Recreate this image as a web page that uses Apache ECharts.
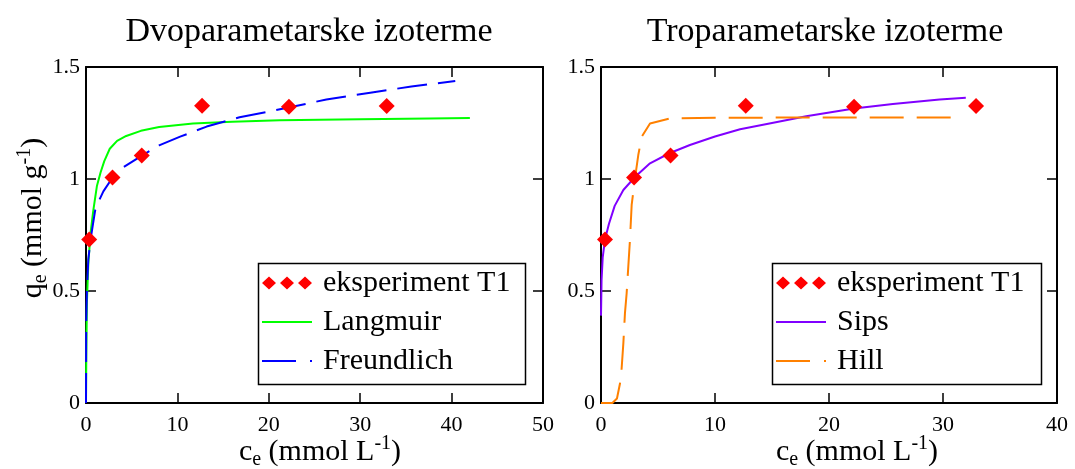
<!DOCTYPE html>
<html><head><meta charset="utf-8">
<script src="https://cdn.jsdelivr.net/npm/echarts@6/dist/echarts.min.js"></script>
<style>html,body{margin:0;padding:0;background:#fff}#c{width:1075px;height:469px}</style>
</head><body><div id="c"></div>
<script>
const titles = ['Dvoparametarske izoterme', 'Troparametarske izoterme'];
const seriesNames = ['eksperiment T1', 'Langmuir', 'Freundlich', 'Sips', 'Hill'];
const xMaxLeft = 50, xMaxRight = 40, xStep = 10;
const yMax = 1.5, yStep = 0.5;

// experimental points [ce, qe]
const experiment = [[0.35,0.73],[2.9,1.007],[6.1,1.105],[12.7,1.327],[22.2,1.322],[32.9,1.326]];
// model curves [ce, qe]
const langmuir = [[0,0],[0.03,0.2],[0.1,0.45],[0.25,0.62],[0.5,0.76],[0.8,0.86],[1.2,0.97],[1.6,1.03],[2.0,1.08],[2.6,1.135],[3.4,1.17],[4.4,1.192],[6,1.215],[8,1.232],[11.7,1.248],[16,1.256],[21.2,1.262],[30,1.267],[37.6,1.27],[42,1.272]];
const freundlich = [[0,0],[0.02,0.35],[0.1,0.5],[0.25,0.64],[0.5,0.73],[1.0,0.86],[1.5,0.91],[1.9,0.945],[2.8,1.0],[4,1.05],[6.2,1.107],[8,1.15],[10.3,1.189],[13.2,1.234],[16.8,1.276],[20.5,1.305],[22.3,1.32],[26.3,1.355],[31.1,1.385],[35.6,1.413],[40.4,1.4375]];
const sips = [[0,0.39],[0.05,0.55],[0.15,0.65],[0.35,0.73],[0.7,0.8],[1.2,0.88],[1.96,0.951],[3,1.01],[4.3,1.07],[6,1.115],[7.8,1.152],[10,1.19],[12.2,1.222],[15,1.25],[18,1.28],[22.2,1.315],[25.6,1.335],[29.7,1.355],[32,1.363]];
const hill = [[0,0],[1.0,0],[1.4,0.02],[1.67,0.088],[1.8,0.147],[1.96,0.266],[2.1,0.4],[2.25,0.49],[2.54,0.728],[2.69,0.884],[2.98,1.003],[3.27,1.107],[3.57,1.189],[4.3,1.248],[6.05,1.27],[10,1.273],[20,1.275],[31.8,1.275]];

const FONT = 'Liberation Serif';
const chart = echarts.init(document.getElementById('c'), null, {renderer: 'canvas'});

function xAx(grid, max, pos) {
  return {
    type: 'value', gridIndex: grid, min: 0, max: max, interval: xStep, position: pos,
    axisLine: {show: true, onZero: false, lineStyle: {color: '#000', width: 2}},
    axisTick: {show: true, inside: true, length: 10, lineStyle: {color: '#000', width: 1.5}},
    axisLabel: {show: pos === 'bottom', color: '#000', fontFamily: FONT, fontSize: 22, margin: 11},
    splitLine: {show: false}
  };
}
function yAx(grid, pos) {
  return {
    type: 'value', gridIndex: grid, min: 0, max: yMax, interval: yStep, position: pos,
    axisLine: {show: true, onZero: false, lineStyle: {color: '#000', width: 2}},
    axisTick: {show: true, inside: true, length: 10, lineStyle: {color: '#000', width: 1.5}},
    axisLabel: {show: pos === 'left', color: '#000', fontFamily: FONT, fontSize: 22, margin: 6},
    splitLine: {show: false}
  };
}

const richName = {
  a: {fontFamily: FONT, fontSize: 30, lineHeight: 36, color: '#000'},
  s: {fontFamily: FONT, fontSize: 20, lineHeight: 20, verticalAlign: 'bottom', color: '#000'},
  p: {fontFamily: FONT, fontSize: 20, lineHeight: 20, verticalAlign: 'top', color: '#000'}
};

const iconDiamonds = 'path://M0,6.5L7,0L14,6.5L7,13Z M18,6.5L25,0L32,6.5L25,13Z M36,6.5L43,0L50,6.5L43,13Z';
const iconSolid = 'path://M0,0H50V2H0Z';
const iconDashDot = 'path://M0,0H34V2H0Z M48,0H50V2H48Z';

function legend(left, names) {
  return {
    orient: 'vertical', left: left, top: 268, padding: 0, itemGap: 9,
    itemWidth: 50, itemHeight: 13,
    textStyle: {fontFamily: FONT, fontSize: 30, lineHeight: 30, color: '#000', padding: [0, 0, 0, 6]},
    data: [
      {name: names[0], icon: iconDiamonds, itemStyle: {borderWidth: 0, opacity: 1}},
      {name: names[1], icon: iconSolid, itemStyle: {borderWidth: 0}},
      {name: names[2], icon: iconDashDot, itemStyle: {borderWidth: 0}}
    ]
  };
}

function scatter(xi) {
  return {name: seriesNames[0], type: 'scatter', xAxisIndex: xi, yAxisIndex: xi, data: experiment,
    symbol: 'diamond', symbolSize: 16, itemStyle: {color: '#ff0000', opacity: 1}, z: 5};
}
function line(name, xi, data, color, dash) {
  return {name: name, type: 'line', xAxisIndex: xi, yAxisIndex: xi, data: data, symbol: 'none',
    lineStyle: {color: color, width: 2, type: dash || 'solid'}, itemStyle: {color: color}};
}

chart.setOption({
  animation: false,
  backgroundColor: '#fff',
  grid: [
    {left: 86, top: 67, width: 457, height: 336},
    {left: 601, top: 67, width: 456, height: 336}
  ],
  xAxis: [xAx(0, xMaxLeft, 'bottom'), xAx(1, xMaxRight, 'bottom'), xAx(0, xMaxLeft, 'top'), xAx(1, xMaxRight, 'top')],
  yAxis: [yAx(0, 'left'), yAx(1, 'left'), yAx(0, 'right'), yAx(1, 'right')],
  legend: [
    legend(262, [seriesNames[0], seriesNames[1], seriesNames[2]]),
    legend(776, [seriesNames[0], seriesNames[3], seriesNames[4]])
  ],
  series: [
    line(seriesNames[1], 0, langmuir, '#00ff00'),
    line(seriesNames[2], 0, freundlich, '#0000ff', [30, 11]),
    scatter(0),
    line(seriesNames[3], 1, sips, '#8000ff'),
    line(seriesNames[4], 1, hill, '#ff8000', [34, 13]),
    scatter(1)
  ],
  graphic: [
    {type: 'text', x: 309, y: 32, style: {text: titles[0], font: '34px "Liberation Serif"', fill: '#000', align: 'center', verticalAlign: 'middle'}},
    {type: 'text', x: 825, y: 32, style: {text: titles[1], font: '34px "Liberation Serif"', fill: '#000', align: 'center', verticalAlign: 'middle'}},
    {type: 'text', x: 320, y: 452, style: {text: '{a|c}{s|e}{a| (mmol L}{p|-1}{a|)}', rich: richName, align: 'center', verticalAlign: 'middle'}},
    {type: 'text', x: 857, y: 452, style: {text: '{a|c}{s|e}{a| (mmol L}{p|-1}{a|)}', rich: richName, align: 'center', verticalAlign: 'middle'}},
    {type: 'text', x: 33, y: 218, rotation: Math.PI / 2, style: {text: '{a|q}{s|e}{a| (mmol g}{p|-1}{a|)}', rich: richName, align: 'center', verticalAlign: 'middle'}},
    {type: 'rect', shape: {x: 258.5, y: 263.5, width: 267, height: 121}, style: {fill: 'none', stroke: '#000', lineWidth: 1.5}, z: 10},
    {type: 'rect', shape: {x: 772.5, y: 263.5, width: 269, height: 121}, style: {fill: 'none', stroke: '#000', lineWidth: 1.5}, z: 10}
  ]
});
</script>
</body></html>
